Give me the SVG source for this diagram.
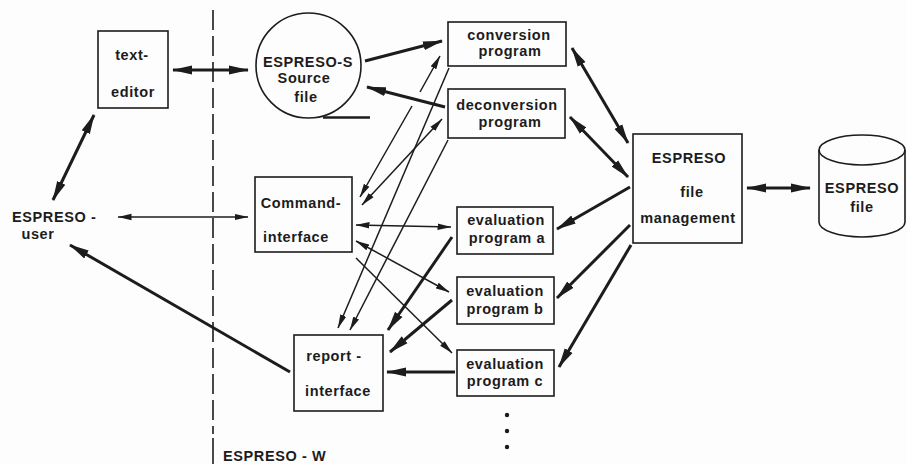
<svg xmlns="http://www.w3.org/2000/svg" width="907" height="464" viewBox="0 0 907 464">
<style>
.bg{fill:#fdfdfd}
.box{fill:none;stroke:#1c1c1c;stroke-width:1.6}
.t{font-family:"Liberation Sans",Arial,sans-serif;font-size:14.5px;font-weight:bold;fill:#1c1c1c;letter-spacing:0.6px;text-anchor:middle}
.ts{text-anchor:start}
.thick{fill:none;stroke:#1c1c1c;stroke-width:3}
.thin{fill:none;stroke:#1c1c1c;stroke-width:1.5}
.thk{marker-end:url(#ah)}
.thkd{marker-start:url(#ah);marker-end:url(#ah)}
.thn{marker-end:url(#at)}
.thnd{marker-start:url(#at);marker-end:url(#at)}
</style>
<defs>
<marker id="ah" viewBox="0 0 20 10" refX="19" refY="5" markerWidth="20" markerHeight="10" markerUnits="userSpaceOnUse" orient="auto-start-reverse">
<path d="M0,0.5 L20,5 L0,9.5 z" fill="#1c1c1c"/>
</marker>
<marker id="at" viewBox="0 0 14 8" refX="13.5" refY="4" markerWidth="14" markerHeight="8" markerUnits="userSpaceOnUse" orient="auto-start-reverse">
<path d="M0,0.8 L14,4 L0,7.2 z" fill="#1c1c1c"/>
</marker>
</defs>
<rect class="bg" x="0" y="0" width="907" height="464"/>

<g id="boundary">
<line x1="213" y1="10" x2="213" y2="434" stroke="#1c1c1c" stroke-width="1.6" stroke-dasharray="20 6"/>
<line x1="213" y1="438" x2="213" y2="464" stroke="#1c1c1c" stroke-width="1.6"/>
<text class="t ts" x="223" y="461">ESPRESO - W</text>
</g>

<g id="user">
<text class="t ts" x="12" y="222">ESPRESO -</text>
<text class="t" x="38" y="239">user</text>
</g>

<g id="text-editor">
<rect class="box" x="98" y="31" width="70" height="77"/>
<text class="t" x="132" y="60">text-</text>
<text class="t" x="133" y="97">editor</text>
</g>

<g id="source-file">
<circle class="box" cx="308.5" cy="65.5" r="52.5" stroke-width="2.4"/>
<line x1="323" y1="117.5" x2="370" y2="117.5" stroke="#1c1c1c" stroke-width="2.4"/>
<text class="t" x="308" y="67">ESPRESO-S</text>
<text class="t" x="304" y="83">Source</text>
<text class="t" x="306" y="102">file</text>
</g>

<g id="command-interface">
<rect class="box" x="255" y="177" width="97" height="75"/>
<text class="t" x="301" y="208">Command-</text>
<text class="t" x="296" y="242">interface</text>
</g>

<g id="report-interface">
<rect class="box" x="294" y="335" width="89" height="76"/>
<text class="t" x="334" y="361">report -</text>
<text class="t" x="338" y="396">interface</text>
</g>

<g id="conversion-program">
<rect class="box" x="448" y="22" width="118" height="44"/>
<text class="t" x="509" y="40">conversion</text>
<text class="t" x="510" y="56">program</text>
</g>

<g id="deconversion-program">
<rect class="box" x="448" y="89" width="117" height="49"/>
<text class="t" x="507" y="110">deconversion</text>
<text class="t" x="510" y="127">program</text>
</g>

<g id="evaluation-a">
<rect class="box" x="457" y="207" width="96" height="47"/>
<text class="t" x="506" y="225">evaluation</text>
<text class="t" x="507" y="243">program  a</text>
</g>

<g id="evaluation-b">
<rect class="box" x="457" y="277" width="97" height="47"/>
<text class="t" x="505" y="296">evaluation</text>
<text class="t" x="505" y="314">program  b</text>
</g>

<g id="evaluation-c">
<rect class="box" x="457" y="350" width="97" height="46"/>
<text class="t" x="505" y="369">evaluation</text>
<text class="t" x="505" y="386">program  c</text>
</g>

<g id="more">
<circle cx="507" cy="415" r="2.2" fill="#1c1c1c"/>
<circle cx="507" cy="431" r="2.2" fill="#1c1c1c"/>
<circle cx="507" cy="447" r="2.2" fill="#1c1c1c"/>
</g>

<g id="file-management">
<rect class="box" x="633" y="134" width="109" height="109"/>
<text class="t" x="689" y="163">ESPRESO</text>
<text class="t" x="692" y="197">file</text>
<text class="t" x="688" y="223">management</text>
</g>

<g id="espreso-file">
<path class="box" d="M819,150 L819,222 A43,15 0 0 0 905,222 L905,150"/>
<ellipse class="box" cx="862" cy="150" rx="43" ry="15"/>
<text class="t" x="862" y="193">ESPRESO</text>
<text class="t" x="862" y="212">file</text>
</g>

<g id="connectors">
<line class="thick thkd" x1="173" y1="70" x2="248" y2="70"/>
<line class="thick thkd" x1="94" y1="115" x2="53" y2="200"/>
<line class="thin thnd" x1="118" y1="217" x2="248" y2="217"/>
<line class="thick thk" x1="290" y1="372" x2="70" y2="245" stroke-width="3.6"/>
<line class="thick thk" x1="365" y1="61" x2="442" y2="41"/>
<line class="thick thk" x1="445" y1="107" x2="367" y2="87"/>
<path class="thin thnd" d="M440,56 L420,92 M412,106 L360,197"/>
<line class="thin thnd" x1="442" y1="119" x2="362" y2="205"/>
<line class="thin thn" x1="449" y1="68" x2="338" y2="328"/>
<line class="thin thn" x1="448" y1="140" x2="350" y2="330"/>
<line class="thin thnd" x1="356" y1="225" x2="451" y2="227"/>
<line class="thin thnd" x1="356" y1="241" x2="449" y2="292"/>
<line class="thin thn" x1="356" y1="258" x2="452" y2="353"/>
<line class="thick thk" x1="452" y1="237" x2="388" y2="330"/>
<line class="thick thk" x1="452" y1="300" x2="390" y2="352"/>
<line class="thick thk" x1="455" y1="372" x2="387" y2="372" stroke-width="3.8"/>
<line class="thick thkd" x1="572" y1="48" x2="628" y2="143"/>
<line class="thick thkd" x1="570" y1="117" x2="628" y2="177"/>
<line class="thick thk" x1="630" y1="187" x2="557" y2="229"/>
<line class="thick thk" x1="630" y1="225" x2="557" y2="298"/>
<line class="thick thk" x1="631" y1="245" x2="559" y2="367"/>
<line class="thick thkd" x1="747" y1="188" x2="810" y2="188"/>
</g>
</svg>
